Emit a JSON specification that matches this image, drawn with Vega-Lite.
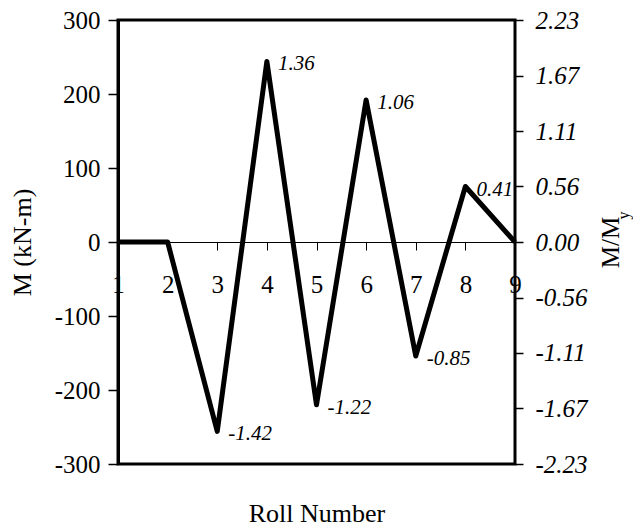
{
  "$schema": "https://vega.github.io/schema/vega-lite/v6.json",
  "width": 397,
  "height": 444,
  "autosize": "none",
  "padding": {"left": 118, "top": 20, "right": 118, "bottom": 63},
  "background": "white",
  "config": {
    "view": {"stroke": "black", "strokeWidth": 3},
    "font": "Liberation Serif",
    "axis": {"labelColor": "black", "titleColor": "black", "tickColor": "black", "domainColor": "black", "grid": false, "labelFont": "Liberation Serif", "titleFont": "Liberation Serif", "titleFontWeight": "normal"}
  },
  "data": {
    "values": [
      {"roll": 1, "M": 0, "label": ""},
      {"roll": 2, "M": 0, "label": ""},
      {"roll": 3, "M": -256, "label": "-1.42"},
      {"roll": 4, "M": 244, "label": "1.36"},
      {"roll": 5, "M": -220, "label": "-1.22"},
      {"roll": 6, "M": 192, "label": "1.06"},
      {"roll": 7, "M": -154, "label": "-0.85"},
      {"roll": 8, "M": 75, "label": "0.41"},
      {"roll": 9, "M": 0, "label": ""}
    ]
  },
  "layer": [
    {
      "mark": {"type": "line", "color": "black", "strokeWidth": 5, "strokeJoin": "round"},
      "encoding": {
        "x": {
          "field": "roll", "type": "quantitative",
          "scale": {"domain": [1, 9], "nice": false, "zero": false},
          "axis": {
            "orient": "bottom", "offset": -222, "title": "Roll Number", "titleY": 258, "titleBaseline": "top",
            "titleFontSize": 26, "labelFontSize": 25, "tickSize": 8, "tickWidth": 1, "domainWidth": 1,
            "labelPadding": 22, "values": [1, 2, 3, 4, 5, 6, 7, 8, 9], "labelFlush": false, "labelOverlap": false, "labelBound": false
          }
        },
        "y": {
          "field": "M", "type": "quantitative",
          "scale": {"domain": [-300, 300], "nice": false},
          "axis": {
            "title": "M (kN-m)", "values": [-300, -200, -100, 0, 100, 200, 300],
            "labelExpr": "replace(datum.label, '−', '-')",
            "tickSize": 10, "tickWidth": 1.5, "labelFontSize": 25, "labelPadding": 8,
            "domainWidth": 3, "zindex": 1,
            "titleFontSize": 26, "titleX": -96, "titleY": 222, "titleAngle": 270, "titleBaseline": "middle", "titleAlign": "center"
          }
        }
      }
    },
    {
      "mark": {"type": "text", "align": "left", "baseline": "middle", "dx": 11, "dy": 3, "fontStyle": "italic", "fontSize": 21, "font": "Liberation Serif", "color": "black"},
      "encoding": {
        "x": {"field": "roll", "type": "quantitative", "axis": null},
        "y": {"field": "M", "type": "quantitative", "scale": {"domain": [-300, 300], "nice": false}, "axis": null},
        "text": {"field": "label"}
      }
    },
    {
      "mark": {"type": "point", "opacity": 0},
      "encoding": {
        "x": {
          "field": "roll", "type": "quantitative",
          "axis": {
            "orient": "top", "title": "y", "labels": false, "ticks": false, "domain": false,
            "titleFontSize": 16, "titleX": 505, "titleY": 195, "titleAngle": 270, "titleBaseline": "middle", "titleAlign": "center"
          }
        }
      }
    },
    {
      "data": {"values": [{"r": -2.23}, {"r": 2.23}]},
      "mark": {"type": "point", "opacity": 0},
      "encoding": {
        "y": {
          "field": "r", "type": "quantitative",
          "scale": {"domain": [-2.23, 2.23], "nice": false},
          "axis": {
            "orient": "right", "title": "M/M",
            "values": [-2.23, -1.67, -1.11, -0.56, 0, 0.56, 1.11, 1.67, 2.23],
            "labelExpr": "replace(format(datum.value, '.2f'), '−', '-')",
            "labelFontStyle": "italic", "labelFontSize": 25, "tickSize": 8, "tickWidth": 1.5, "labelPadding": 12,
            "domain": false,
            "titleFontSize": 25, "titleX": 95, "titleY": 222, "titleAngle": 270, "titleBaseline": "middle", "titleAlign": "center"
          }
        }
      }
    }
  ],
  "resolve": {"scale": {"y": "independent"}, "axis": {"x": "independent"}}
}
